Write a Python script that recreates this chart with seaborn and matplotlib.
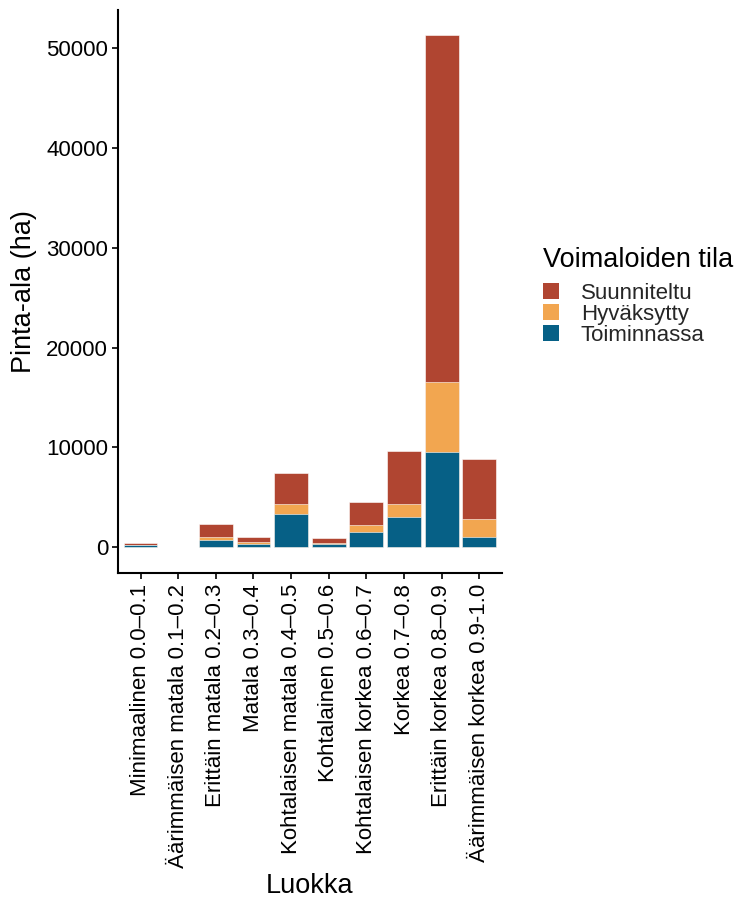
import matplotlib
matplotlib.use("Agg")
import matplotlib.pyplot as plt
import seaborn as sns
import numpy as np
from matplotlib.patches import Patch

luokat = ["Minimaalinen 0.0–0.1", "Äärimmäisen matala 0.1–0.2", "Erittäin matala 0.2–0.3",
          "Matala 0.3–0.4", "Kohtalaisen matala 0.4–0.5", "Kohtalainen 0.5–0.6",
          "Kohtalaisen korkea 0.6–0.7", "Korkea 0.7–0.8", "Erittäin korkea 0.8–0.9",
          "Äärimmäisen korkea 0.9-1.0"]
toiminnassa = [200, 30, 700, 330, 3320, 260, 1525, 3055, 9510, 1000]
hyvaksytty = [30, 0, 330, 170, 1000, 170, 670, 1265, 7060, 1795]
suunniteltu = [170, 10, 1270, 500, 3100, 530, 2355, 5290, 34730, 6015]

varit = {"Suunniteltu": "#B04531", "Hyväksytty": "#F2A650", "Toiminnassa": "#066086"}

sns.set_style("ticks")
plt.rcParams["font.family"] = ["Liberation Sans", "DejaVu Sans"]

fig = plt.figure(figsize=(7.37, 8.99), dpi=100)
ax = fig.add_axes([0.160, 0.363, 0.521, 0.626])

# stacked: draw cumulative totals from top layer down
kerros1 = np.array(toiminnassa)
kerros2 = kerros1 + np.array(hyvaksytty)
kerros3 = kerros2 + np.array(suunniteltu)
for arvot, nimi in [(kerros3, "Suunniteltu"), (kerros2, "Hyväksytty"), (kerros1, "Toiminnassa")]:
    sns.barplot(x=luokat, y=arvot, color=varit[nimi], width=0.9, saturation=1,
                edgecolor="white", linewidth=0.4, ax=ax)

ax.set_xlim(-0.6, 9.6)
ax.set_ylim(-2565, 53865)
ax.set_yticks([0, 10000, 20000, 30000, 40000, 50000])
ax.tick_params(axis="x", rotation=90, labelsize=16, length=4, width=1.2, color="black", pad=4)
ax.tick_params(axis="y", labelsize=16, length=4, width=1.2, color="black", pad=3)
for lab in ax.get_xticklabels() + ax.get_yticklabels():
    lab.set_color("black")
sns.despine(ax=ax)
for s in ["left", "bottom"]:
    ax.spines[s].set_linewidth(1.5)
    ax.spines[s].set_color("black")
ax.set_xlabel("Luokka", fontsize=19.5, color="black")
ax.set_ylabel("Pinta-ala (ha)", fontsize=19.5, color="black")
ax.xaxis.set_label_coords(0.5, -0.533)
ax.yaxis.set_label_coords(-0.21, 0.5)

kahvat = [Patch(facecolor=varit[k], edgecolor="none") for k in ["Suunniteltu", "Hyväksytty", "Toiminnassa"]]
leg = fig.legend(kahvat, ["Suunniteltu", "Hyväksytty", "Toiminnassa"], title="Voimaloiden tila",
                 loc="upper left", bbox_to_anchor=(0.725, 0.735), frameon=False, fontsize=16,
                 title_fontsize=19.5, handlelength=0.7, handleheight=0.7, handletextpad=1.0,
                 labelspacing=0.0, alignment="left", borderaxespad=0)
leg.get_title().set_color("black")
leg._legend_box.sep = 7

fig.savefig("out.png", dpi=100)
